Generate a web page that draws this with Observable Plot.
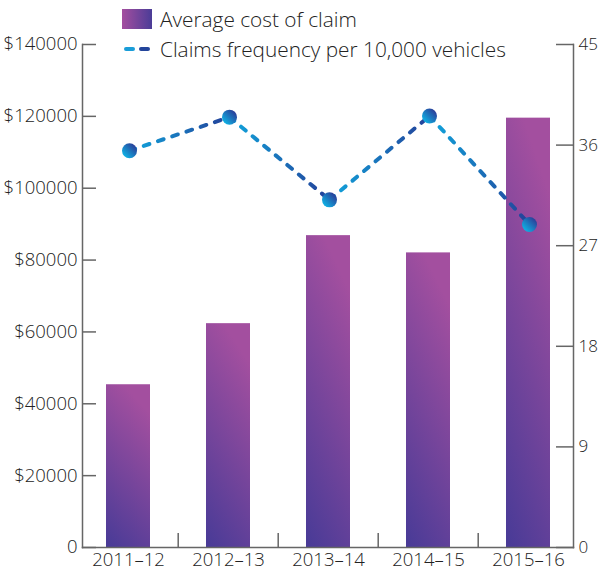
<!DOCTYPE html>
<html>
<head>
<meta charset="utf-8">
<script src="https://cdn.jsdelivr.net/npm/d3@7"></script>
<script src="https://cdn.jsdelivr.net/npm/@observablehq/plot@0.6"></script>
<style>
  html, body { margin: 0; padding: 0; background: #fff; }
  #wrap { position: relative; width: 598px; height: 576px; font-family: "Open Sans", sans-serif; font-weight: 300; color: #222; }
  #legend { position: absolute; left: 122px; top: 4px; font-size: 20.8px; }
  .row { display: flex; align-items: center; height: 30px; }
  .sw { width: 30px; height: 20px; margin-right: 8px; flex: none; }
  .bar-sw { background: linear-gradient(to right, #a44e9f, #4b3c97); }
  .line-sw { display: flex; align-items: center; justify-content: space-between; padding: 0 2px; box-sizing: border-box; }
  .dash { width: 11px; height: 4px; border-radius: 2px; }
</style>
</head>
<body>
<div id="wrap">
  <div id="chart"></div>
  <div id="legend">
    <div class="row"><div class="sw bar-sw"></div><span>Average cost of claim</span></div>
    <div class="row"><div class="sw line-sw"><div class="dash" style="background:#1a9dd8"></div><div class="dash" style="background:#23459b"></div></div><span>Claims frequency per 10,000 vehicles</span></div>
  </div>
</div>
<script>
const years = ["2011–12", "2012–13", "2013–14", "2014–15", "2015–16"];
const avgCost = [45300, 62300, 86800, 82000, 119500];
const frequency = [35.5, 38.5, 31.1, 38.6, 28.9];
const leftTicks = [0, 20000, 40000, 60000, 80000, 100000, 120000, 140000];
const rightTicks = [0, 9, 18, 27, 36, 45];

const k = 140000 / 45;
const data = years.map((y, i) => ({year: y, cost: avgCost[i], freq: frequency[i], freqScaled: frequency[i] * k}));
const segs = data.slice(0, -1).map((d, i) => ({x1: d.year, y1: d.freqScaled, x2: data[i + 1].year, y2: data[i + 1].freqScaled}));

const axisColor = "#666";

const chart = Plot.plot({
  width: 598,
  height: 576,
  marginTop: 44,
  marginBottom: 29,
  marginLeft: 82,
  marginRight: 25,
  style: {fontFamily: "Open Sans, sans-serif", fontSize: "18.5px", fontWeight: 300, color: "#222", background: "transparent", overflow: "visible"},
  x: {domain: years, paddingInner: 0.563, paddingOuter: 0.22, label: null},
  y: {domain: [0, 140000], label: null},
  marks: [
    Plot.barY(data, {x: "year", y: "cost", fill: "url(#barGrad)"}),
    Plot.link(segs, {x1: "x1", y1: "y1", x2: "x2", y2: "y2", stroke: "url(#lineGrad)", strokeWidth: 4, strokeDasharray: "6,9", strokeLinecap: "round", dx: 1}),
    Plot.dot(data, {x: "year", y: "freqScaled", r: 7.5, fill: "url(#dotGrad)", dx: 1}),
    Plot.frame({anchor: "left", stroke: axisColor, strokeWidth: 1.5}),
    Plot.frame({anchor: "right", stroke: axisColor, strokeWidth: 1.5}),
    Plot.frame({anchor: "bottom", stroke: axisColor, strokeWidth: 1.5}),
    Plot.axisY({anchor: "left", ticks: leftTicks, tickSize: -14, tickFormat: () => "", stroke: axisColor, strokeWidth: 1.5}),
    Plot.axisY({anchor: "left", ticks: leftTicks, tickSize: 0, tickPadding: 5, tickFormat: d => d === 0 ? "0" : "$" + d, fill: "#222"}),
    Plot.axisY({anchor: "right", ticks: rightTicks.map(v => v * k), tickSize: -18, tickFormat: () => "", stroke: axisColor, strokeWidth: 1.5}),
    Plot.axisY({anchor: "right", ticks: rightTicks.map(v => v * k), tickSize: 0, tickPadding: 5, fontSize: 17, tickFormat: d => String(Math.round(d / k)), fill: "#222"}),
    Plot.axisX({anchor: "bottom", ticks: years.slice(1), tickSize: -14, tickFormat: () => "", stroke: axisColor, strokeWidth: 1.5, dx: -50.3}),
    Plot.axisX({anchor: "bottom", ticks: years, tickSize: 0, tickPadding: 5, fill: "#222"})
  ]
});

const defs = d3.create("svg:defs");
const bg = defs.append("linearGradient").attr("id", "barGrad").attr("x1", 0.1).attr("y1", 1).attr("x2", 0.4).attr("y2", 0);
bg.append("stop").attr("offset", 0).attr("stop-color", "#4a3b97");
bg.append("stop").attr("offset", 1).attr("stop-color", "#a34f9f");
const lg = defs.append("linearGradient").attr("id", "lineGrad").attr("x1", 0).attr("y1", 0).attr("x2", 1).attr("y2", 0);
lg.append("stop").attr("offset", 0).attr("stop-color", "#10a6dd");
lg.append("stop").attr("offset", 1).attr("stop-color", "#243f98");
const dg = defs.append("linearGradient").attr("id", "dotGrad").attr("x1", 0.15).attr("y1", 0.85).attr("x2", 0.85).attr("y2", 0.15);
dg.append("stop").attr("offset", 0).attr("stop-color", "#0fb0e3");
dg.append("stop").attr("offset", 1).attr("stop-color", "#2a3f99");
chart.insertBefore(defs.node(), chart.firstChild);

document.getElementById("chart").appendChild(chart);
</script>
</body>
</html>
